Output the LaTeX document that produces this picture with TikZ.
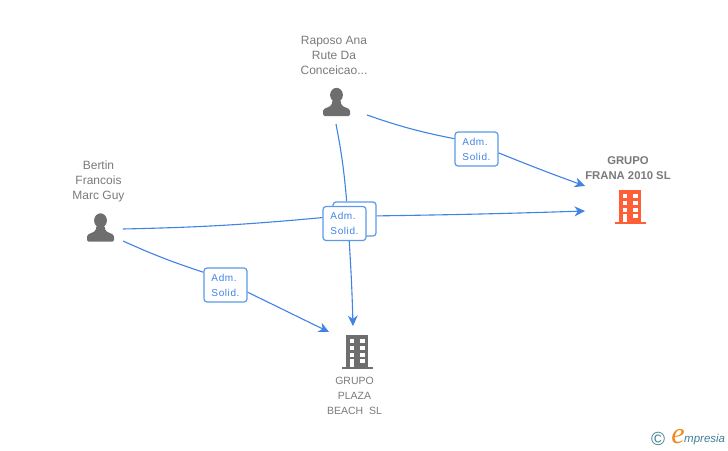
\documentclass[tikz,border=0pt]{standalone}
\usepackage{fontspec}
\setmainfont{Liberation Sans}
\newfontfamily\logoserif{Liberation Serif}
\usetikzlibrary{arrows.meta}
\definecolor{linkblue}{HTML}{3F83E4}
\definecolor{badgeblue}{HTML}{5A9AE8}
\definecolor{labelgray}{HTML}{7A7A7A}
\definecolor{icongray}{HTML}{6E6E6E}
\definecolor{franared}{HTML}{FF5F36}
\definecolor{logoteal}{HTML}{3F7F96}
\definecolor{logoorange}{HTML}{F08A1E}
\tikzset{
  label text/.style={font=\fontsize{12}{15}\selectfont, text=labelgray, align=center, inner sep=0pt},
  badge/.style={draw=badgeblue, line width=1.2pt, rounded corners=3pt, fill=white, minimum width=43pt, minimum height=34pt, inner sep=0pt, text=linkblue, align=left, font=\fontsize{10}{15}\selectfont\addfontfeature{LetterSpace=6}},
  link/.style={draw=linkblue, line width=1.1pt},
  linkarrow/.style={link, -{Stealth[length=10.5pt,width=10pt]}},
  person/.pic={
    \fill[icongray] (0,-7) ellipse (6.4 and 7.2);
    \fill[icongray, rounded corners=1.5pt] (-13.5,14) -- (-13.5,7.5) -- (-5,3.5) -- (-4,-2) -- (4,-2) -- (5,3.5) -- (13.5,7.5) -- (13.5,14) -- cycle;
  },
  building/.pic={
    \fill[#1] (-11,-17) rectangle (11,15);
    \fill[#1] (-15.5,14.5) rectangle (15.5,17);
    \foreach \ypos in {-13,-6,1} {
      \fill[white] (-7,\ypos) rectangle (-3,\ypos+4);
      \fill[white] (3,\ypos) rectangle (8,\ypos+4);
    }
    \fill[white] (-7,7) rectangle (-3,14.5);
    \fill[white] (3,7) rectangle (8,11);
  },
}
\begin{document}
\begin{tikzpicture}[x=1pt,y=-1pt]
  \useasboundingbox (0,0) rectangle (728,450);
  % people and companies
  \node [label text] (raposo) at (334,55.5) {Raposo Ana\\Rute Da\\Conceicao...};
  \pic at (336.5,102) {person};
  \node [label text] (bertin) at (98.5,181.5) {Bertin\\Francois\\Marc Guy};
  \pic at (100.5,227.5) {person};
  \node [label text, font=\fontsize{11.3}{15}\selectfont\bfseries] (frana) at (628,168.5) {GRUPO\\FRANA 2010 SL};
  \pic at (630,207) {building=franared};
  \pic at (357,352) {building=icongray};
  \node [label text, font=\fontsize{10.5}{15}\selectfont] (plaza) at (354.5,396) {GRUPO\\PLAZA\\BEACH\ \ SL};
  % free ends of the connectors
  \coordinate (raposoright) at (367,115);
  \coordinate (raposodown) at (336,124);
  \coordinate (bertinup) at (123,229);
  \coordinate (bertindown) at (123,241);
  \coordinate (franatop) at (585,186);
  \coordinate (franaside) at (585,211);
  \coordinate (plazatop) at (353,326);
  \coordinate (plazaleft) at (329,332);
  % badges
  \node [badge] (admright) at (476.5,149) {Adm.\\Solid.};
  \node [badge] (admleft) at (225.5,285) {Adm.\\Solid.};
  \node [badge] (admback) at (354.5,219) {};
  \node [badge] (admfront) at (344.5,223.5) {Adm.\\Solid.};
  % connectors
  \draw [link] (raposoright) to[bend right=4] (admright.155);
  \draw [linkarrow] (admright.-10) to[bend right=1] (franatop);
  \draw [link] (raposodown) to[bend left=3] (admback.114);
  \draw [linkarrow] (admfront.-75) to[bend left=1] (plazatop);
  \draw [link] (bertinup) to[bend right=2] (admfront.165);
  \draw [linkarrow] (admback.8) to[bend right=0.5] (franaside);
  \draw [link] (bertindown) to[bend right=3] (admleft.150);
  \draw [linkarrow] (admleft.-18) to (plazaleft);
  % logo
  \node [font=\fontsize{19}{19}\selectfont, text=logoteal, inner sep=0pt] (copyr) at (658,439) {©};
  \node [font=\logoserif\fontsize{30}{30}\selectfont\itshape, text=logoorange, inner sep=0pt] (logoe) at (678,437) {e};
  \node [font=\fontsize{11.5}{12}\selectfont\itshape, text=logoteal, inner sep=0pt, anchor=west] (logotext) at (684,440) {mpresia};
\end{tikzpicture}
\end{document}
